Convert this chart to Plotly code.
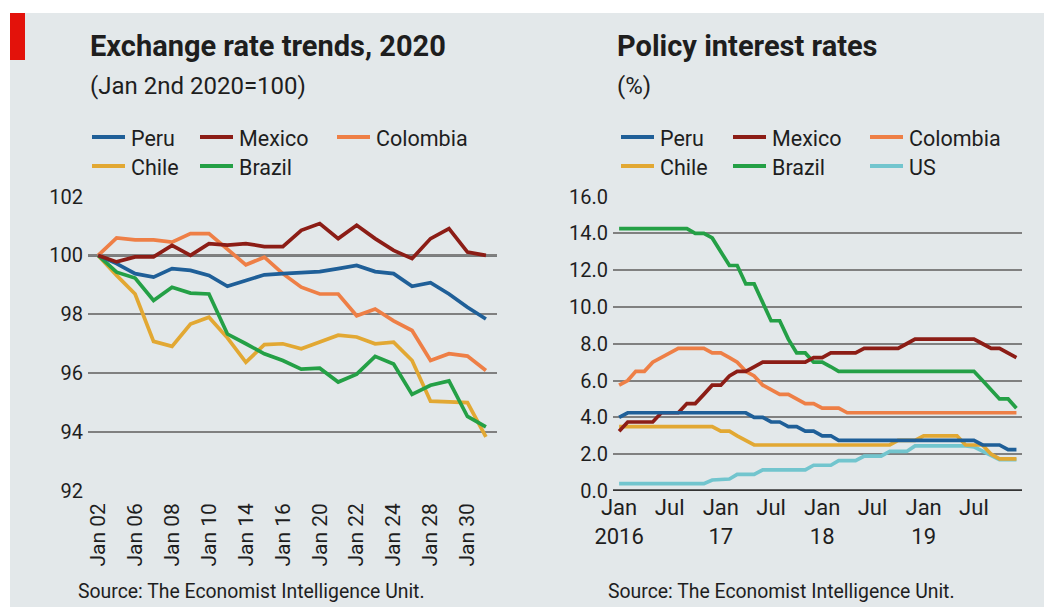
import pandas as pd
import plotly.graph_objects as go

# ---------------- data ----------------
fx_days = ["Jan 02", "Jan 03", "Jan 06", "Jan 07", "Jan 08", "Jan 09", "Jan 10",
           "Jan 13", "Jan 14", "Jan 15", "Jan 16", "Jan 17", "Jan 20", "Jan 21",
           "Jan 22", "Jan 23", "Jan 24", "Jan 27", "Jan 28", "Jan 29", "Jan 30", "Jan 31"]
fx_tick_days = ["Jan 02", "Jan 06", "Jan 08", "Jan 10", "Jan 14", "Jan 16",
                "Jan 20", "Jan 22", "Jan 24", "Jan 28", "Jan 30"]

fx_peru = [100, 99.72, 99.38, 99.26, 99.55, 99.49, 99.32, 98.95, 99.15, 99.34, 99.38,
           99.43, 99.45, 99.55, 99.66, 99.45, 99.38, 98.95, 99.07, 98.69, 98.24, 97.84]
fx_mexico = [100, 99.78, 99.95, 99.95, 100.34, 100.0, 100.4, 100.35, 100.4, 100.3, 100.3,
             100.85, 101.08, 100.57, 101.02, 100.57, 100.17, 99.89, 100.57, 100.91, 100.11, 100.0]
fx_colombia = [100, 100.59, 100.53, 100.53, 100.45, 100.74, 100.74, 100.23, 99.68, 99.94, 99.38,
               98.92, 98.69, 98.69, 97.95, 98.18, 97.78, 97.45, 96.43, 96.66, 96.58, 96.09]
fx_chile = [100, 99.32, 98.69, 97.08, 96.91, 97.67, 97.9, 97.2, 96.37, 96.97, 97.0,
            96.83, 97.06, 97.29, 97.23, 97.0, 97.05, 96.43, 95.05, 95.03, 95.0, 93.84]
fx_brazil = [100, 99.43, 99.23, 98.47, 98.92, 98.72, 98.69, 97.33, 97.0, 96.66, 96.43,
             96.14, 96.17, 95.70, 95.97, 96.57, 96.31, 95.28, 95.59, 95.74, 94.53, 94.18]
fx_ticks = [92, 94, 96, 98, 100, 102]

# monthly policy rates, Jan 2016 - Dec 2019
rate_months = pd.date_range("2016-01-01", "2019-12-01", freq="MS")
rate_peru = ([4.0] + [4.25] * 15 + [4.0] * 2 + [3.75] * 2 + [3.5] * 2 + [3.25] * 2
             + [3.0] * 2 + [2.75] * 17 + [2.5] * 3 + [2.25] * 2)
rate_mexico = ([3.25] + [3.75] * 4 + [4.25] * 3 + [4.75] * 2 + [5.25] + [5.75] * 2
               + [6.25] + [6.5] * 2 + [6.75] + [7.0] * 6 + [7.25] * 2 + [7.5] * 4
               + [7.75] * 5 + [8.0] + [8.25] * 8 + [8.0] + [7.75] * 2 + [7.5] + [7.25])
rate_colombia = ([5.75, 6.0, 6.5, 6.5, 7.0, 7.25, 7.5] + [7.75] * 4 + [7.5]
                 + [7.5, 7.25, 7.0, 6.5, 6.25, 5.75, 5.5, 5.25, 5.25, 5.0, 4.75, 4.75]
                 + [4.5] * 3 + [4.25] * 21)
rate_chile = ([3.5] * 12 + [3.25] * 2 + [3.0] + [2.75] + [2.5] * 17 + [2.75] * 3
              + [3.0] * 5 + [2.5] * 3 + [2.0] + [1.75] * 3)
rate_brazil = ([14.25] * 9 + [14.0, 14.0, 13.75]
               + [13.0, 12.25, 12.25, 11.25, 11.25, 10.25, 9.25, 9.25, 8.25, 7.5, 7.5, 7.0]
               + [7.0, 6.75] + [6.5] * 10
               + [6.5] * 7 + [6.0, 5.5, 5.0, 5.0, 4.5])
rate_us = ([0.4] * 11 + [0.6] + [0.65] * 2 + [0.9] * 3 + [1.15] * 6 + [1.4] * 3
           + [1.65] * 3 + [1.9] * 3 + [2.15] * 3 + [2.45] * 7 + [2.4, 2.15, 1.9] + [1.7] * 3)
rate_ticks = [0, 2, 4, 6, 8, 10, 12, 14, 16]
rate_tick_dates = ["2016-01-01", "2016-07-01", "2017-01-01", "2017-07-01",
                   "2018-01-01", "2018-07-01", "2019-01-01", "2019-07-01"]
rate_tick_text = ["Jan<br>2016", "Jul", "Jan<br>17", "Jul", "Jan<br>18", "Jul", "Jan<br>19", "Jul"]

fx_names = ["Peru", "Mexico", "Colombia", "Chile", "Brazil"]
rate_names = ["Peru", "Mexico", "Colombia", "Chile", "Brazil", "US"]
colors = {"Peru": "#1f5f98", "Mexico": "#8c1d16", "Colombia": "#ee7f46",
          "Chile": "#e2a833", "Brazil": "#24a046", "US": "#72c5ce"}

fx_series = {"Peru": fx_peru, "Mexico": fx_mexico, "Colombia": fx_colombia,
             "Chile": fx_chile, "Brazil": fx_brazil}
rate_series = {"Peru": rate_peru, "Mexico": rate_mexico, "Colombia": rate_colombia,
               "Chile": rate_chile, "Brazil": rate_brazil, "US": rate_us}

# ---------------- layout helpers ----------------
W, H = 1044, 607
FONT = "Roboto"
TXT = "#1e1e1e"
BG = "#e3e8ea"
GRID = "#808080"


def px(x):
    return x / W


def py(y):
    return 1 - y / H


fig = go.Figure()

# draw order: lower lines first
for name in ["Chile", "Brazil", "Colombia", "Peru", "Mexico"]:
    fig.add_trace(go.Scatter(x=fx_days, y=fx_series[name], name=name, mode="lines",
                             line=dict(color=colors[name], width=3.7),
                             xaxis="x", yaxis="y", showlegend=False))
for name in ["US", "Chile", "Colombia", "Brazil", "Mexico", "Peru"]:
    fig.add_trace(go.Scatter(x=rate_months, y=rate_series[name], name=name, mode="lines",
                             line=dict(color=colors[name], width=3.7),
                             xaxis="x2", yaxis="y2", showlegend=False))

ydom = [py(491), py(196.5)]

fig.update_layout(
    width=W, height=H, autosize=False,
    margin=dict(l=0, r=0, t=0, b=0, pad=0, autoexpand=False),
    paper_bgcolor="white", plot_bgcolor="rgba(0,0,0,0)",
    font=dict(family=FONT, color=TXT),
    xaxis=dict(domain=[px(88), px(497)], anchor="y", type="category",
               categoryorder="array", categoryarray=fx_days, range=[-0.55, 21.6],
               tickmode="array", tickvals=fx_tick_days, ticktext=fx_tick_days,
               tickangle=-90, tickfont=dict(size=21, color=TXT),
               showgrid=False, zeroline=False, showline=False, ticks="",
               ticklabelstandoff=7, automargin=False),
    yaxis=dict(domain=ydom, anchor="x", range=[92, 102], tickvals=fx_ticks,
               tickfont=dict(size=20, color=TXT), showgrid=True, gridcolor=GRID,
               gridwidth=1.7, zeroline=False, showline=False, ticks="",
               ticklabelstandoff=4, automargin=False),
    xaxis2=dict(domain=[px(613), px(1022)], anchor="y2", type="date",
                range=["2015-12-10", "2019-12-21"],
                tickmode="array", tickvals=rate_tick_dates, ticktext=rate_tick_text,
                tickfont=dict(size=22, color=TXT), showgrid=False, zeroline=False,
                showline=False, ticks="", ticklabelstandoff=1, automargin=False),
    yaxis2=dict(domain=ydom, anchor="x2", range=[0, 16], tickvals=rate_ticks,
                tickformat=".1f", tickfont=dict(size=20, color=TXT),
                showgrid=True, gridcolor=GRID, gridwidth=1.7, zeroline=False,
                showline=False, ticks="", ticklabelstandoff=4, automargin=False),
)

shapes = [
    # panel background and red tag
    dict(type="rect", xref="paper", yref="paper", x0=px(10), x1=1, y0=0, y1=py(13),
         fillcolor=BG, line=dict(width=0), layer="below"),
    dict(type="rect", xref="paper", yref="paper", x0=px(10), x1=px(25), y0=py(60), y1=py(13),
         fillcolor="#e3120b", line=dict(width=0), layer="below"),
    # index baseline at 100
    dict(type="line", xref="x domain", yref="y", x0=0, x1=1, y0=100, y1=100,
         line=dict(color="#111111", width=2.4), layer="below"),
    # zero line of the rates chart
    dict(type="line", xref="x2 domain", yref="y2", x0=0, x1=1, y0=0, y1=0,
         line=dict(color="#333333", width=3.5), layer="above"),
]

annotations = []


def add_text(x, y, text, size, bold=False, anchor="left"):
    annotations.append(dict(xref="paper", yref="paper", x=px(x), y=py(y),
                            xanchor=anchor, yanchor="middle", showarrow=False,
                            text=f"<b>{text}</b>" if bold else text,
                            font=dict(family=FONT, size=size, color=TXT)))


add_text(88, 46, "Exchange rate trends, 2020", 29, bold=True)
add_text(88, 86, "(Jan 2nd 2020=100)", 24)
add_text(615, 46, "Policy interest rates", 29, bold=True)
add_text(615, 86, "(%)", 24)
add_text(76, 591, "Source: The Economist Intelligence Unit.", 19.4)
add_text(606, 591, "Source: The Economist Intelligence Unit.", 19.4)

# legends: three columns, two rows
legend_cols_left = [92, 200, 337]
legend_cols_right = [621, 733, 870]
legend_rows = [137, 166]


def add_legend(names, cols):
    for k, name in enumerate(names):
        x0 = cols[k % 3]
        yl = legend_rows[k // 3]
        shapes.append(dict(type="line", xref="paper", yref="paper",
                           x0=px(x0), x1=px(x0 + 33), y0=py(yl), y1=py(yl),
                           line=dict(color=colors[name], width=4)))
        add_text(x0 + 37, yl + 2, name, 21.5)


add_legend(fx_names, legend_cols_left)
add_legend(rate_names, legend_cols_right)

fig.update_layout(shapes=shapes, annotations=annotations)
fig.write_html("out.html")
